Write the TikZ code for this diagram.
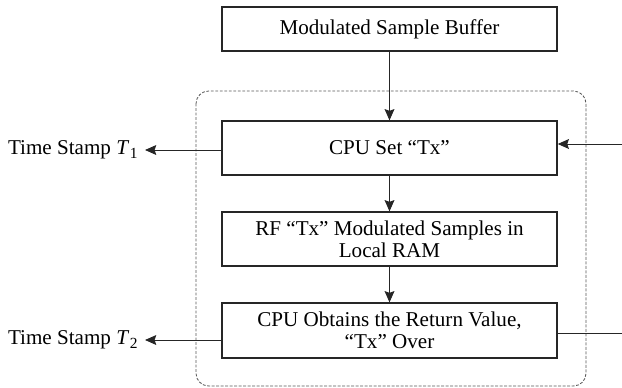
\documentclass[tikz,border=0pt]{standalone}
\usepackage{fontspec}
\setmainfont{Liberation Serif}
\usetikzlibrary{arrows.meta,positioning,calc}

\newcommand{\tstamp}[1]{Time Stamp \textit{T}\kern0.5pt\raisebox{-0.35ex}{\fontsize{11}{11}\selectfont #1}}

\begin{document}
\begin{tikzpicture}[
  x=0.025cm, y=-0.025cm,
  font=\fontsize{15}{15.5}\selectfont,
  blk/.style={draw=black!85,line width=0.9pt,minimum width=8.375cm,inner sep=0pt,align=center},
  arr/.style={-{Stealth[length=8pt,width=7pt,inset=1.2pt]},line width=0.7pt,draw=black!85},
  ln/.style={line width=0.7pt,draw=black!85},
  grp/.style={draw=black!65,line width=0.6pt,dash pattern=on 2pt off 1.2pt,rounded corners=9pt},
  lbl/.style={inner sep=5pt}
]
\useasboundingbox (0,0) rectangle (622,387);

% ---- dashed group ----
\draw[grp] (196,91) rectangle (586,386);

% ---- blocks ----
\node[blk,minimum height=1.1cm]   (buf)    at (389.5,29)    {Modulated Sample Buffer};
\node[blk,minimum height=1.35cm]  (cpuset) at (389.5,148)   {CPU Set ``Tx''};
\node[blk,minimum height=1.35cm]  (rftx)   at (389.5,239)   {RF ``Tx'' Modulated Samples in\\ Local RAM};
\node[blk,minimum height=1.375cm] (cpuret) at (389.5,330.5) {CPU Obtains the Return Value,\\ ``Tx'' Over};

% ---- time stamps ----
\node[lbl,anchor=east] (ts1) at (145,150) {\tstamp{1}};
\node[lbl,anchor=east] (ts2) at (145,340) {\tstamp{2}};

\coordinate (txin)  at (622,144);
\coordinate (txout) at (622,333);

% ---- flow ----
\draw[arr] (buf.south) -- (cpuset.north);
\draw[arr] (cpuset.south) -- (rftx.north);
\draw[arr] (rftx.south) -- (cpuret.north);

\draw[arr] (cpuset.west |- ts1.east) -- (ts1.east);
\draw[arr] (cpuret.west |- ts2.east) -- (ts2.east);
\draw[arr] (txin) -- (cpuset.east |- txin);
\draw[ln]  (cpuret.east |- txout) -- (txout);

\end{tikzpicture}
\end{document}
